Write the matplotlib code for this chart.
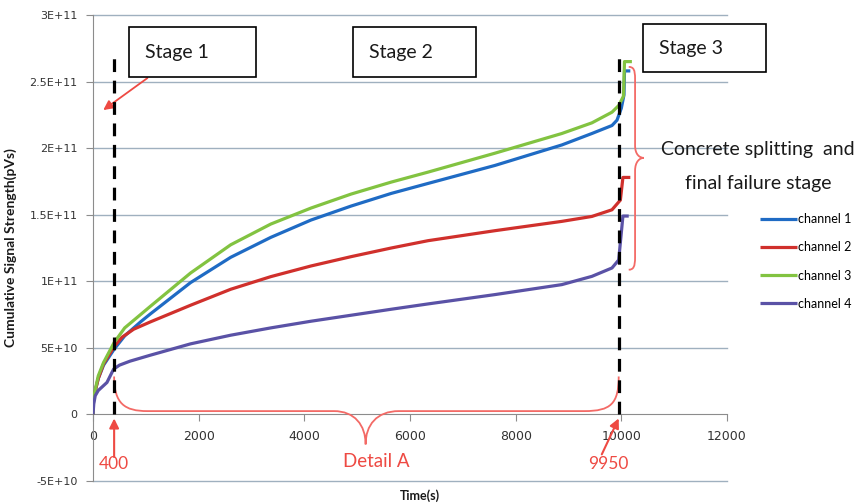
import numpy as np
import matplotlib
matplotlib.use("Agg")
import matplotlib.pyplot as plt
from matplotlib.patches import Rectangle, PathPatch
from matplotlib.path import Path

# cumulative signal strength per channel, in units of 1E+10 pVs
t_ch1 = [0, 10, 50, 100, 200, 400, 600, 900, 1086, 1846, 2606, 3366, 4126, 4885, 5645,
         6342, 7607, 8874, 9443, 9823, 9918, 10000, 10050, 10060, 10170]
v_ch1 = [0, 1.1, 1.9, 2.7, 3.7, 4.9, 5.9, 6.95, 7.55, 9.9, 11.8, 13.3, 14.6, 15.65, 16.6,
         17.35, 18.7, 20.24, 21.1, 21.7, 22.1, 23.0, 24.0, 25.8, 25.8]

t_ch2 = [0, 10, 50, 100, 200, 400, 550, 770, 1086, 1846, 2606, 3366, 4126, 4885, 5645,
         6342, 7607, 8874, 9443, 9823, 9982, 10030, 10170]
v_ch2 = [0, 1.1, 1.9, 2.7, 3.8, 5.1, 5.8, 6.4, 6.95, 8.2, 9.4, 10.35, 11.15, 11.85, 12.5,
         13.05, 13.8, 14.5, 14.87, 15.37, 16.1, 17.8, 17.8]

t_ch3 = [0, 10, 50, 100, 200, 400, 600, 900, 1086, 1846, 2606, 3366, 4126, 4885, 5645,
         6342, 7607, 8874, 9443, 9823, 9950, 10040, 10060, 10200]
v_ch3 = [0, 1.2, 2.0, 2.9, 3.9, 5.4, 6.5, 7.5, 8.12, 10.62, 12.74, 14.3, 15.5, 16.55, 17.45,
         18.2, 19.62, 21.1, 21.9, 22.7, 23.2, 23.9, 26.5, 26.5]

t_ch4 = [0, 15, 42, 100, 264, 390, 500, 700, 1086, 1846, 2606, 3366, 4126, 4885, 5645,
         6342, 7607, 8874, 9443, 9823, 9950, 10030, 10140]
v_ch4 = [0, 0.8, 1.4, 1.8, 2.4, 3.4, 3.7, 4.0, 4.45, 5.3, 5.95, 6.5, 7.0, 7.45, 7.9,
         8.3, 9.0, 9.75, 10.37, 11.0, 11.6, 14.9, 14.9]

channels = ["channel 1", "channel 2", "channel 3", "channel 4"]
colors = ["#1F6BC4", "#D0302C", "#82C341", "#5A52A6"]

stage_bounds = [400, 9950]
y_ticks = [-5e10, 0, 5e10, 1e11, 1.5e11, 2e11, 2.5e11, 3e11]
y_tick_labels = ["-5E+10", "0", "5E+10", "1E+11", "1.5E+11", "2E+11", "2.5E+11", "3E+11"]
x_ticks = [0, 2000, 4000, 6000, 8000, 10000, 12000]

E10 = 1e10
red = "#EE4A43"
brace_red = "#F36A66"

plt.rcParams["font.family"] = ["Lato", "DejaVu Sans"]

fig = plt.figure(figsize=(8.62, 5.03), dpi=100)
ax = fig.add_axes([93 / 862, 1 - 481 / 503, 634 / 862, 466 / 503])

ax.set_xlim(0, 12000)
ax.set_ylim(-5e10, 3e11)

for s in ["top", "right"]:
    ax.spines[s].set_visible(False)
ax.spines["left"].set_color("#8C8C8C")
ax.spines["bottom"].set_color("#8C8C8C")
ax.spines["bottom"].set_position(("data", 0))

ax.set_yticks(y_ticks)
ax.set_yticklabels(y_tick_labels)
ax.set_xticks(x_ticks)
ax.tick_params(axis="y", direction="out", length=5, color="#8C8C8C",
               labelsize=8, labelcolor="#333333", pad=6)
ax.tick_params(axis="x", direction="out", length=5, color="#8C8C8C",
               labelsize=9, labelcolor="#333333", pad=6)
for lab in ax.get_xticklabels() + ax.get_yticklabels():
    lab.set_family("DejaVu Sans")

for yv in y_ticks:
    if yv != 0:
        ax.axhline(yv, color="#9FB0BF", lw=1.0, zorder=0, clip_on=False)

# the four channels
series = [(t_ch1, v_ch1), (t_ch2, v_ch2), (t_ch3, v_ch3), (t_ch4, v_ch4)]
for (tt, vv), name, c in zip(series, channels, colors):
    ax.plot(tt, np.array(vv) * E10, color=c, lw=2.3, label=name,
            solid_capstyle="butt", solid_joinstyle="round", zorder=3)

# stage boundaries
for xb in stage_bounds:
    ax.plot([xb, xb], [0, 27.1 * E10], color="black", lw=2.3,
            linestyle=(0, (4, 2.7)), zorder=4)

# stage labels in boxes
boxes = [(687, 3082, 25.34, 29.09, 993, "Stage 1"),
         (4923, 7240, 25.34, 29.09, 5228, "Stage 2"),
         (10412, 12729, 25.71, 29.31, 10715, "Stage 3")]
for x0, x1, y0, y1, xt, txt in boxes:
    ax.add_patch(Rectangle((x0, y0 * E10), x1 - x0, (y1 - y0) * E10, fill=True,
                           facecolor="white", edgecolor="black", lw=1.2,
                           clip_on=False, zorder=5))
    ax.text(xt, (y0 + y1) / 2 * E10, txt, fontsize=14, ha="left", va="center",
            color="#1A1A1A", zorder=6, clip_on=False)

ax.annotate("", xy=(194, 22.86 * E10), xytext=(1029, 25.26 * E10),
            arrowprops=dict(arrowstyle="-|>", color=red, lw=1.3,
                            mutation_scale=14, shrinkA=0, shrinkB=0))

# brace under the curves spanning stage 2
yf, yc = 0.25, -2.25
verts = [(400, 2.85), (400, 0.8), (600, yf), (1030, yf),
         (4560, yf),
         (4950, yf), (5160, -0.8), (5160, yc),
         (5160, -0.8), (5370, yf), (5790, yf),
         (9300, yf),
         (9800, yf), (9950, 0.8), (9950, 2.85)]
codes = [Path.MOVETO, Path.CURVE4, Path.CURVE4, Path.CURVE4,
         Path.LINETO,
         Path.CURVE4, Path.CURVE4, Path.CURVE4,
         Path.CURVE4, Path.CURVE4, Path.CURVE4,
         Path.LINETO,
         Path.CURVE4, Path.CURVE4, Path.CURVE4]
verts = [(x, y * E10) for x, y in verts]
ax.add_patch(PathPatch(Path(verts, codes), fill=False, edgecolor=brace_red,
                       lw=1.3, clip_on=False, zorder=3))

# brace beside the final failure stage
xb, xm, xc = 10140, 10260, 10425
verts = [(xb, 26.1), (10230, 26.1), (xm, 25.9), (xm, 25.2),
         (xm, 20.2),
         (xm, 19.5), (10350, 19.27), (xc, 19.27),
         (10350, 19.27), (xm, 19.0), (xm, 18.3),
         (xm, 11.8),
         (xm, 11.1), (10230, 10.87), (xb, 10.87)]
verts = [(x, y * E10) for x, y in verts]
ax.add_patch(PathPatch(Path(verts, codes), fill=False, edgecolor=brace_red,
                       lw=1.3, clip_on=False, zorder=3))

fig.text(758 / 862, 1 - 150 / 503, "Concrete splitting  and", fontsize=14,
         ha="center", va="center", color="#1A1A1A")
fig.text(758 / 862, 1 - 183 / 503, "final failure stage", fontsize=14,
         ha="center", va="center", color="#1A1A1A")

# markers for the stage boundary times
ax.annotate("", xy=(400, -0.3 * E10), xytext=(400, -3.2 * E10),
            arrowprops=dict(arrowstyle="-|>", color=red, lw=1.5,
                            mutation_scale=14, shrinkA=0, shrinkB=0),
            annotation_clip=False)
ax.text(400, -3.75 * E10, str(stage_bounds[0]), color=red, fontsize=12.5,
        ha="center", va="center")
ax.annotate("", xy=(9950, -0.3 * E10), xytext=(9630, -3.0 * E10),
            arrowprops=dict(arrowstyle="-|>", color=red, lw=1.5,
                            mutation_scale=14, shrinkA=0, shrinkB=0),
            annotation_clip=False)
ax.text(9750, -3.75 * E10, str(stage_bounds[1]), color=red, fontsize=12.5,
        ha="center", va="center")
ax.text(5360, -3.55 * E10, "Detail A", color=red, fontsize=13.5,
        ha="center", va="center")

ax.set_ylabel("Cumulative Signal Strength(pVs)", fontsize=10, fontweight="bold",
              color="#1A1A1A")
ax.yaxis.set_label_coords(-0.12, 0.5)
fig.text(420 / 862, 1 - 496 / 503, "Time(s)", fontsize=9, fontweight="bold",
         ha="center", va="center", color="#1A1A1A")

ax.legend(loc="upper left", bbox_to_anchor=(760 / 862, 1 - 213 / 503),
          bbox_transform=fig.transFigure, frameon=False, fontsize=9,
          handlelength=2.95, handletextpad=0.1, labelspacing=1.3,
          borderpad=0, borderaxespad=0)

fig.savefig("out.png", dpi=100)
